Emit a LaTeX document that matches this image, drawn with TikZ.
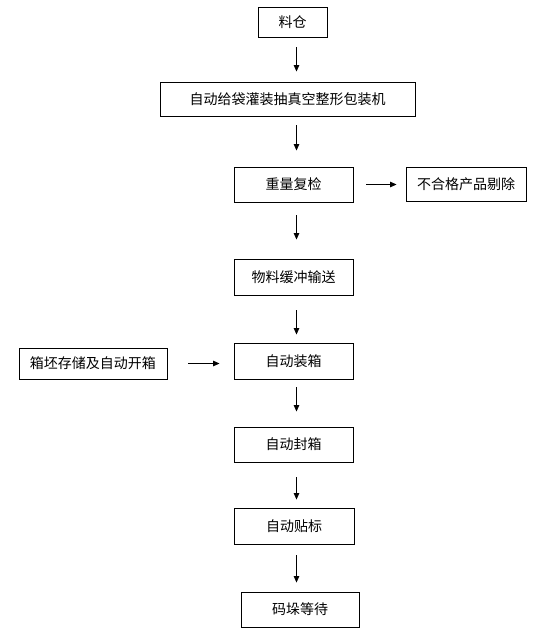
\documentclass[tikz,border=0pt]{standalone}
\usepackage{fontspec}
\setmainfont{Noto Sans CJK SC}
\usetikzlibrary{arrows.meta}
\begin{document}
\begin{tikzpicture}[x=1pt,y=-1pt,
  box/.style={draw,line width=0.9pt,inner sep=0pt,font=\fontsize{14}{16}\selectfont},
  arr/.style={line width=0.9pt,-{Triangle[length=6.5pt,width=5.5pt]}}]
\useasboundingbox (0,0) rectangle (558,635);
\coordinate (ax) at (296.5,0);
\node[box,minimum width=69pt,minimum height=30pt] (n1) at (292.5,22) {料仓};
\node[box,minimum width=255pt,minimum height=34pt] (n2) at (287.5,99) {自动给袋灌装抽真空整形包装机};
\node[box,minimum width=119pt,minimum height=35pt] (n3) at (293.5,184.5) {重量复检};
\node[box,minimum width=120pt,minimum height=34pt] (n4) at (466,184.5) {不合格产品剔除};
\node[box,minimum width=119pt,minimum height=36pt] (n5) at (293.5,277) {物料缓冲输送};
\node[box,minimum width=119pt,minimum height=36pt] (n6) at (293.5,361) {自动装箱};
\node[box,minimum width=148pt,minimum height=31pt] (n7) at (93,363.5) {箱坯存储及自动开箱};
\node[box,minimum width=119pt,minimum height=35pt] (n8) at (293.5,444.5) {自动封箱};
\node[box,minimum width=120pt,minimum height=36pt] (n9) at (294,526) {自动贴标};
\node[box,minimum width=118pt,minimum height=35pt] (n10) at (300,609.5) {码垛等待};
\draw[arr,shorten <=10pt,shorten >=10pt] (n1.south -| ax) -- (n2.north -| ax);
\draw[arr,shorten <=9pt,shorten >=16pt] (n2.south -| ax) -- (n3.north -| ax);
\draw[arr,shorten <=13pt,shorten >=19pt] (n3.south -| ax) -- (n5.north -| ax);
\draw[arr,shorten <=15pt,shorten >=8pt] (n5.south -| ax) -- (n6.north -| ax);
\draw[arr,shorten <=8pt,shorten >=15pt] (n6.south -| ax) -- (n8.north -| ax);
\draw[arr,shorten <=15pt,shorten >=8pt] (n8.south -| ax) -- (n9.north -| ax);
\draw[arr,shorten <=11pt,shorten >=9pt] (n9.south -| ax) -- (n10.north -| ax);
\draw[arr,shorten <=13pt,shorten >=9pt] (n3.east) -- (n4.west);
\draw[arr,shorten <=21pt,shorten >=14pt] (n7.east) -- (n7.east -| n6.west);
\end{tikzpicture}
\end{document}
